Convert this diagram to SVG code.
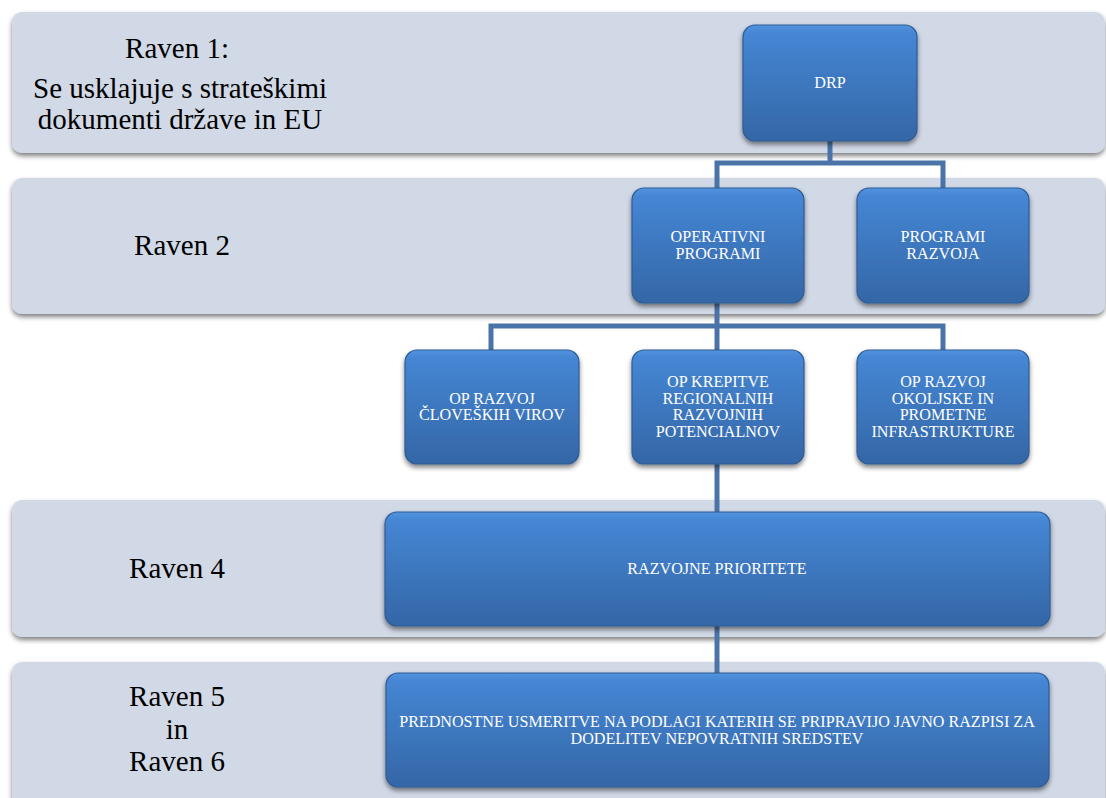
<svg xmlns="http://www.w3.org/2000/svg" width="1106" height="798" viewBox="0 0 1106 798">
<defs>
<linearGradient id="boxg" x1="0" y1="0" x2="0" y2="1">
<stop offset="0" stop-color="#5393de"/>
<stop offset="0.07" stop-color="#4586d4"/>
<stop offset="1" stop-color="#3466a6"/>
</linearGradient>
<filter id="sh" x="-10%" y="-10%" width="120%" height="130%">
<feGaussianBlur in="SourceAlpha" stdDeviation="2.5"/>
<feOffset dx="0" dy="3" result="b"/>
<feComponentTransfer><feFuncA type="linear" slope="0.5"/></feComponentTransfer>
<feMerge><feMergeNode/><feMergeNode in="SourceGraphic"/></feMerge>
</filter>
</defs>
<style>
.band{fill:#d1d8e6;filter:url(#sh)}
.box{fill:url(#boxg);stroke:#2d5c94;stroke-width:1.2;filter:url(#sh)}
.lbl{font-family:"Liberation Serif","Times New Roman",serif;font-size:29px;fill:#000;text-anchor:middle}
.nt{font-family:"Liberation Serif","Times New Roman",serif;font-size:16.1px;fill:#fff;text-anchor:middle}
.conn{stroke:#4a74a8;stroke-width:5;fill:none}
</style>
<rect width="1106" height="798" fill="#ffffff"/>
<g id="bands">
<rect class="band" x="12" y="12" width="1093" height="141" rx="10"/>
<rect class="band" x="12" y="178" width="1093" height="136" rx="10"/>
<rect class="band" x="12" y="500" width="1093" height="137" rx="10"/>
<rect class="band" x="12" y="662" width="1093" height="150" rx="10"/>
</g>
<g id="level-labels">
<text class="lbl" x="177" y="58">Raven 1:</text>
<text class="lbl" x="180" y="98">Se usklajuje s strateškimi</text>
<text class="lbl" x="180" y="129">dokumenti države in EU</text>
<text class="lbl" x="182" y="255">Raven 2</text>
<text class="lbl" x="177" y="578">Raven 4</text>
<text class="lbl" x="177" y="706">Raven 5</text>
<text class="lbl" x="177" y="739">in</text>
<text class="lbl" x="177" y="771">Raven 6</text>
</g>
<g id="connectors">
<path class="conn" d="M830 141 V163 M717 188 V163 H943 V188"/>
<path class="conn" d="M717 303 V350 M491 350 V326 H943 V350"/>
<path class="conn" d="M717 464 V512"/>
<path class="conn" d="M717 626 V673"/>
</g>
<g id="drp">
<rect class="box" x="743" y="25" width="174" height="116" rx="12"/>
<text class="nt" x="830" y="88">DRP</text>
</g>
<g id="operativni">
<rect class="box" x="632" y="188" width="172" height="115" rx="12"/>
<text class="nt" x="718" y="242">OPERATIVNI</text>
<text class="nt" x="718" y="259">PROGRAMI</text>
</g>
<g id="programi-razvoja">
<rect class="box" x="857" y="188" width="172" height="115" rx="12"/>
<text class="nt" x="943" y="242">PROGRAMI</text>
<text class="nt" x="943" y="259">RAZVOJA</text>
</g>
<g id="op-cloveski">
<rect class="box" x="405" y="350" width="174" height="114" rx="12"/>
<text class="nt" x="492" y="404">OP RAZVOJ</text>
<text class="nt" x="492" y="420">ČLOVEŠKIH VIROV</text>
</g>
<g id="op-krepitve">
<rect class="box" x="632" y="350" width="172" height="114" rx="12"/>
<text class="nt" x="718" y="387">OP KREPITVE</text>
<text class="nt" x="718" y="404">REGIONALNIH</text>
<text class="nt" x="718" y="420">RAZVOJNIH</text>
<text class="nt" x="718" y="437">POTENCIALNOV</text>
</g>
<g id="op-okoljske">
<rect class="box" x="857" y="350" width="172" height="114" rx="12"/>
<text class="nt" x="943" y="387">OP RAZVOJ</text>
<text class="nt" x="943" y="404">OKOLJSKE IN</text>
<text class="nt" x="943" y="420">PROMETNE</text>
<text class="nt" x="943" y="437">INFRASTRUKTURE</text>
</g>
<g id="razvojne-prioritete">
<rect class="box" x="385" y="512" width="665" height="114" rx="12"/>
<text class="nt" x="717" y="574">RAZVOJNE PRIORITETE</text>
</g>
<g id="prednostne-usmeritve">
<rect class="box" x="386" y="673" width="663" height="114" rx="12"/>
<text class="nt" x="717" y="727">PREDNOSTNE USMERITVE NA PODLAGI KATERIH SE PRIPRAVIJO JAVNO RAZPISI ZA</text>
<text class="nt" x="717" y="744">DODELITEV NEPOVRATNIH SREDSTEV</text>
</g>
</svg>
